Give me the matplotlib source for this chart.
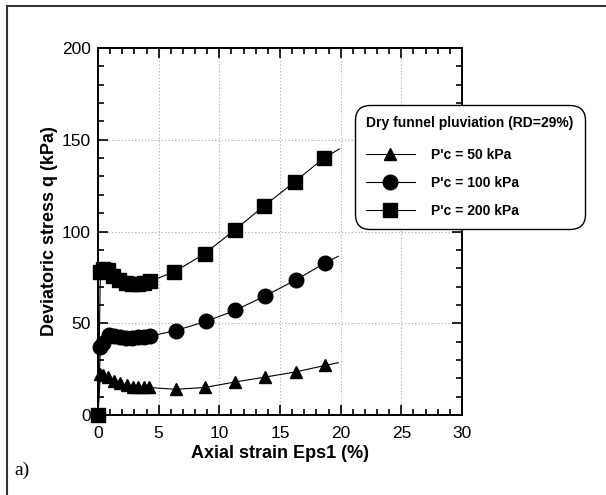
import matplotlib
matplotlib.use("Agg")
import matplotlib.pyplot as plt
from matplotlib.patches import Rectangle
from matplotlib.ticker import MultipleLocator

plt.rcParams["font.family"] = ["Liberation Sans", "DejaVu Sans"]

# =====================================================
# DATA
# =====================================================

strain_50 = [0.0, 0.2, 0.4, 0.8, 1.3, 1.8, 2.4, 2.9, 3.3, 3.8, 4.2,
             6.4, 8.8, 11.3, 13.8, 16.3, 18.7, 19.8]
q_50 = [0.0, 22.5, 21.8, 20.5, 18.6, 17.4, 16.3, 15.4, 15.0, 15.0, 15.0,
        14.0, 15.0, 18.0, 20.7, 23.5, 27.0, 28.5]

strain_100 = [0.0, 0.2, 0.4, 0.9, 1.3, 1.8, 2.3, 2.8, 3.3, 3.8, 4.3,
              6.4, 8.9, 11.3, 13.8, 16.3, 18.7, 19.8]
q_100 = [0.0, 37.0, 39.0, 43.8, 42.8, 42.3, 42.0, 42.0, 42.3, 42.6, 43.0,
         46.0, 51.0, 57.0, 65.0, 73.6, 82.8, 86.5]

strain_200 = [0.0, 0.2, 0.4, 0.8, 1.2, 1.7, 2.3, 2.8, 3.3, 3.8, 4.3,
              6.3, 8.8, 11.3, 13.7, 16.2, 18.6, 19.9]
q_200 = [0.0, 78.0, 79.5, 79.0, 76.0, 73.6, 72.0, 71.4, 71.4, 72.0, 73.0,
         78.0, 88.0, 101.0, 114.0, 127.0, 140.0, 145.0]

series = [
    ("P'c = 50 kPa", strain_50, q_50, "^", 9),
    ("P'c = 100 kPa", strain_100, q_100, "o", 10.5),
    ("P'c = 200 kPa", strain_200, q_200, "s", 10),
]

# =====================================================
# FIGURE
# =====================================================

fig = plt.figure(figsize=(6.06, 4.95), dpi=100)

ax = fig.add_axes([0.1617, 0.1616, 0.6007, 0.7414])

for label, x, y, marker, size in series:

    ax.plot(
        x,
        y,
        color="black",
        linewidth=0.8,
        marker=marker,
        markersize=size,
        markerfacecolor="black",
        markeredgecolor="black",
        markevery=slice(1, -1) if marker != "s" else slice(0, -1),
        label=label,
        clip_on=False,
        zorder=3
    )

ax.set_xlim(0, 30)
ax.set_ylim(0, 200)

ax.xaxis.set_major_locator(MultipleLocator(5))
ax.xaxis.set_minor_locator(MultipleLocator(1))
ax.yaxis.set_major_locator(MultipleLocator(50))
ax.yaxis.set_minor_locator(MultipleLocator(10))

ax.tick_params(
    which="both",
    direction="in",
    top=True,
    right=True,
    labelsize=12.5,
    width=1.2
)
ax.tick_params(which="major", length=7)
ax.tick_params(which="minor", length=4)
ax.tick_params(axis="x", pad=8)
ax.tick_params(axis="y", pad=5)

for spine in ax.spines.values():
    spine.set_linewidth(1.4)

ax.grid(
    True,
    which="major",
    linestyle=(0, (1, 2)),
    color="#a8a8a8",
    linewidth=0.8
)

ax.set_xlabel(
    "Axial strain Eps1 (%)",
    fontsize=13,
    fontweight="bold",
    labelpad=3
)

ax.set_ylabel(
    "Deviatoric stress q (kPa)",
    fontsize=13,
    fontweight="bold",
    labelpad=3
)

leg = ax.legend(
    title="Dry funnel pluviation (RD=29%)",
    loc="upper left",
    bbox_to_anchor=(355 / 606, 1 - 105 / 495),
    bbox_transform=fig.transFigure,
    borderaxespad=0,
    prop={"weight": "bold", "size": 10},
    title_fontproperties={"weight": "bold", "size": 10},
    handlelength=3.5,
    handletextpad=1.2,
    labelspacing=1.0,
    borderpad=0.8,
    fancybox=True,
    framealpha=1,
    edgecolor="black"
)
leg.get_frame().set_linewidth(1.0)
leg.get_frame().set_boxstyle("round", pad=0, rounding_size=1.1)
leg._legend_box.align = "left"
leg._legend_box.sep = leg._legend_box.sep + 3

# =====================================================
# OUTER FRAME AND PANEL TAG
# =====================================================

fig.patches.append(
    Rectangle(
        (7 / 606, -0.1),
        1.2,
        1.1 - 6 / 495,
        transform=fig.transFigure,
        fill=False,
        edgecolor="#333333",
        linewidth=1.5
    )
)

fig.text(
    14 / 606,
    1 - 470 / 495,
    "a)",
    fontsize=14,
    family="Liberation Serif",
    va="center",
    ha="left"
)

fig.savefig("out.png", dpi=100)
